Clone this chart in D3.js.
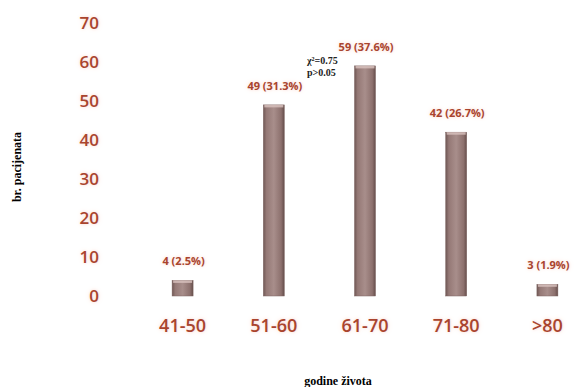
<!DOCTYPE html>
<html lang="en">
<head>
<meta charset="UTF-8">
<title>godine života</title>
<script src="https://d3js.org/d3.v7.min.js"></script>
<style>
  body { margin: 0; background: #fff; }
  .tick text, .cat, .vlab { text-shadow: 0 0 3px #f8dcd4, 0 0 6px #fbe8e2; }
</style>
</head>
<body>
<svg width="576" height="387"></svg>
<script>
var categories = ["41-50", "51-60", "61-70", "71-80", ">80"];
var patients = [4, 49, 59, 42, 3];
var percents = ["2.5%", "31.3%", "37.6%", "26.7%", "1.9%"];
var yTicks = [0, 10, 20, 30, 40, 50, 60, 70];

var svg = d3.select("svg");
var red = "#a9442e";

var x = d3.scaleBand().domain(categories).range([137, 593]).paddingInner(0.77).paddingOuter(0.385);
var y = d3.scaleLinear().domain([0, 70]).range([296, 23]);

var defs = svg.append("defs");
var g = defs.append("linearGradient").attr("id", "barg").attr("x1", 0).attr("x2", 1);
g.append("stop").attr("offset", "0").attr("stop-color", "#6f5754");
g.append("stop").attr("offset", "0.15").attr("stop-color", "#957976");
g.append("stop").attr("offset", "0.5").attr("stop-color", "#a88e8b");
g.append("stop").attr("offset", "0.85").attr("stop-color", "#8d716e");
g.append("stop").attr("offset", "1").attr("stop-color", "#654e4b");

// y axis labels only
var yAxis = svg.append("g")
    .attr("transform", "translate(99,0)")
    .call(d3.axisLeft(y).tickValues(yTicks).tickSize(0).tickPadding(0));
yAxis.select(".domain").remove();
yAxis.selectAll("text")
    .attr("fill", red)
    .style("font-family", "'Open Sans', sans-serif")
    .style("font-size", "17px")
    .style("font-weight", "600");

// category labels
svg.selectAll(".cat").data(categories).enter().append("text")
    .attr("class", "cat")
    .attr("x", function(d) { return x(d) + x.bandwidth() / 2; })
    .attr("y", 332)
    .attr("text-anchor", "middle")
    .attr("fill", red)
    .style("font-family", "'Open Sans', sans-serif")
    .style("font-size", "18px")
    .style("font-weight", "600")
    .text(function(d) { return d; });

// bars
var bars = svg.selectAll(".bar").data(patients).enter().append("g");
bars.append("rect")
    .attr("x", function(d, i) { return x(categories[i]); })
    .attr("y", function(d) { return y(d); })
    .attr("width", x.bandwidth())
    .attr("height", function(d) { return y(0) - y(d); })
    .attr("fill", "url(#barg)")
    .attr("stroke", "#7d6360")
    .attr("stroke-width", 0.5);
bars.append("rect")
    .attr("x", function(d, i) { return x(categories[i]) + 1; })
    .attr("y", function(d) { return y(d); })
    .attr("width", x.bandwidth() - 2)
    .attr("height", 2.5)
    .attr("fill", "#d9c3bf")
    .attr("opacity", 0.8);

// value labels
svg.selectAll(".vlab").data(patients).enter().append("text")
    .attr("class", "vlab")
    .attr("x", function(d, i) { return x(categories[i]) + x.bandwidth() / 2 + 1; })
    .attr("y", function(d) { return y(d) - 15; })
    .attr("text-anchor", "middle")
    .attr("fill", red)
    .style("font-family", "'Open Sans', sans-serif")
    .style("font-size", "11px")
    .style("font-weight", "bold")
    .text(function(d, i) { return d + " (" + percents[i] + ")"; });

// chi-square note
var note = svg.append("text")
    .attr("fill", "#222")
    .style("font-family", "'Liberation Serif', serif")
    .style("font-size", "10px")
    .style("font-weight", "bold");
note.append("tspan").attr("x", 307).attr("y", 64).text("χ²=0.75");
note.append("tspan").attr("x", 307).attr("y", 76).text("p>0.05");

// axis titles
svg.append("text")
    .attr("transform", "translate(21,167) rotate(-90)")
    .attr("text-anchor", "middle")
    .style("font-family", "'Liberation Serif', serif")
    .style("font-size", "12px")
    .style("font-weight", "bold")
    .text("br. pacijenata");

svg.append("text")
    .attr("x", 338)
    .attr("y", 385)
    .attr("text-anchor", "middle")
    .style("font-family", "'Liberation Serif', serif")
    .style("font-size", "12px")
    .style("font-weight", "bold")
    .text("godine života");
</script>
</body>
</html>
